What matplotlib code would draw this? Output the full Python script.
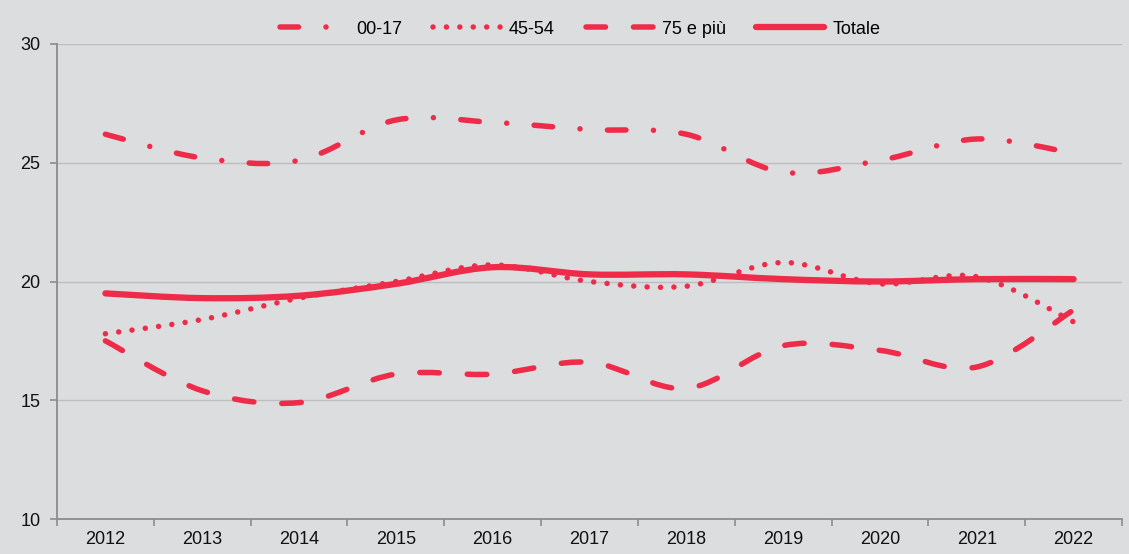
import numpy as np
import matplotlib
matplotlib.use("Agg")
import matplotlib.pyplot as plt
from matplotlib.path import Path
from matplotlib.patches import PathPatch
from matplotlib.lines import Line2D

# Data
years = ["2012", "2013", "2014", "2015", "2016", "2017", "2018", "2019", "2020", "2021", "2022"]
eta_00_17 = [26.2, 25.2, 25.1, 26.8, 26.7, 26.4, 26.2, 24.6, 25.1, 26.0, 25.4]
eta_45_54 = [17.8, 18.4, 19.3, 20.0, 20.7, 20.0, 19.8, 20.8, 19.9, 20.2, 18.3]
eta_75_piu = [17.5, 15.4, 14.9, 16.1, 16.1, 16.6, 15.5, 17.3, 17.1, 16.4, 18.8]
totale = [19.5, 19.3, 19.4, 19.9, 20.6, 20.3, 20.3, 20.1, 20.0, 20.1, 20.1]
series_labels = ["00-17", "45-54", "75 e più", "Totale"]
y_ticks = [10, 15, 20, 25, 30]

plt.rcParams["font.family"] = ["Liberation Sans", "DejaVu Sans"]
plt.rcParams["lines.scale_dashes"] = False

RED = "#EE2C4A"
BG = "#DCDDDF"
PX = 0.72  # points per pixel at 100 dpi
FS = 13


def smooth_path(xs, ys):
    """Catmull-Rom style smoothed path through the points as cubic Beziers."""
    pts = np.column_stack([xs, ys]).astype(float)
    n = len(pts)
    verts = [pts[0]]
    codes = [Path.MOVETO]
    for i in range(n - 1):
        p0 = pts[i - 1] if i > 0 else pts[i]
        p3 = pts[i + 2] if i + 2 < n else pts[i + 1]
        c1 = pts[i] + (pts[i + 1] - p0) / 6.0
        c2 = pts[i + 1] - (p3 - pts[i]) / 6.0
        verts += [c1, c2, pts[i + 1]]
        codes += [Path.CURVE4] * 3
    return Path(verts, codes)


fig = plt.figure(figsize=(11.29, 5.54), dpi=100, facecolor=BG)
ax = fig.add_axes([57 / 1129, 1 - 519 / 554, (1122 - 57) / 1129, (519 - 44) / 554])
ax.set_facecolor(BG)

x = np.arange(len(years))

LW = 5.5 * PX
styles = [
    dict(data=eta_00_17, lw=LW, ls=(0, (18.5 * PX, 27.5 * PX, 0.01, 27.5 * PX))),
    dict(data=eta_45_54, lw=LW, ls=(0, (0.01, 13.4 * PX))),
    dict(data=eta_75_piu, lw=LW, ls=(0, (19.5 * PX, 28 * PX))),
    dict(data=totale, lw=6.3 * PX, ls="solid"),
]

handles = []
for st in styles:
    patch = PathPatch(smooth_path(x, st["data"]), fill=False, edgecolor=RED,
                      linewidth=st["lw"], linestyle=st["ls"], capstyle="round",
                      joinstyle="round", zorder=3)
    ax.add_patch(patch)
    handles.append(Line2D([], [], color=RED, linewidth=st["lw"], linestyle=st["ls"],
                          solid_capstyle="round", dash_capstyle="round"))

ax.set_xlim(-0.5, len(years) - 0.5)
ax.set_ylim(10, 30)

# y axis
ax.set_yticks(y_ticks)
ax.set_yticklabels([str(v) for v in y_ticks])
ax.tick_params(axis="y", length=5, width=1.2, color="#8C8C8C", pad=7,
               labelsize=FS, labelcolor="#111111")
ax.yaxis.grid(True, color="#BEBEBE", linewidth=1.0)
ax.set_axisbelow(True)

# x axis: ticks on category boundaries, labels at centres
ax.set_xticks(np.arange(-0.5, len(years), 1.0))
ax.set_xticklabels([])
ax.set_xticks(x, minor=True)
ax.set_xticklabels(years, minor=True)
ax.tick_params(axis="x", which="major", length=5, width=1.2, color="#8C8C8C")
ax.tick_params(axis="x", which="minor", length=0, pad=9, labelsize=FS,
               labelcolor="#111111")

for s in ["top", "right"]:
    ax.spines[s].set_visible(False)
for s in ["left", "bottom"]:
    ax.spines[s].set_color("#8C8C8C")
    ax.spines[s].set_linewidth(1.3)

fig.legend(handles, series_labels, loc="center", bbox_to_anchor=(0.514, 1 - 29 / 554),
           ncol=4, frameon=False, fontsize=FS, handlelength=3.77,
           handletextpad=0.44, columnspacing=1.7, borderaxespad=0)

fig.savefig("out.png", dpi=100, facecolor=BG)
